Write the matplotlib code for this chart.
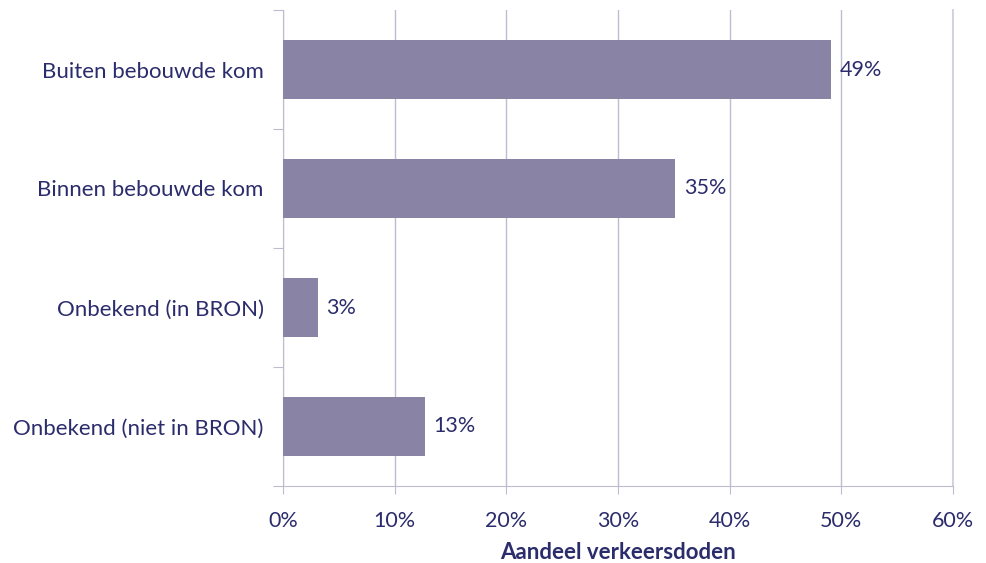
import matplotlib.pyplot as plt
import numpy as np

categories = ['Buiten bebouwde kom', 'Binnen bebouwde kom',
              'Onbekend (in BRON)', 'Onbekend (niet in BRON)']
shares = [49.1, 35.1, 3.1, 12.7]
labels = ['49%', '35%', '3%', '13%']
xticks = [0, 10, 20, 30, 40, 50, 60]

text_color = '#2B2C6B'
bar_color = '#8983A5'
line_color = '#BEBCCF'

plt.rcParams['font.family'] = ['Lato', 'DejaVu Sans']
fs = 16

fig = plt.figure(figsize=(9.87, 5.63), dpi=100)
ax = fig.add_axes([283 / 987, 1 - 486 / 563, (953 - 283) / 987, (486 - 10) / 563])

ypos = np.arange(len(categories))[::-1]
ax.barh(ypos, shares, height=0.5, color=bar_color, zorder=3)
for y, v, lab in zip(ypos, shares, labels):
    ax.text(v + 0.8, y, lab, va='center', ha='left', fontsize=fs - 0.5, color=text_color)

ax.set_xlim(0, 60)
ax.set_ylim(-0.5, len(categories) - 0.5)
ax.set_xticks(xticks)
ax.set_xticklabels([f'{t}%' for t in xticks], fontsize=fs - 0.5, color=text_color)
ax.tick_params(axis='x', length=6, color=line_color, pad=12)

ax.set_yticks(np.arange(-0.5, len(categories)), labels=[''] * (len(categories) + 1))
ax.tick_params(axis='y', which='major', length=7, color=line_color)
ax.set_yticks(ypos, labels=categories, minor=True)
ax.tick_params(axis='y', which='minor', length=0, pad=14, labelsize=fs, labelcolor=text_color)

ax.grid(axis='x', color=line_color, linewidth=1, zorder=0)
ax.axvline(60, color='#D6D6DE', linewidth=1.5, clip_on=False, zorder=1)
ax.spines['top'].set_visible(False)
ax.spines['right'].set_visible(False)
ax.spines['left'].set_color(line_color)
ax.spines['bottom'].set_color(line_color)

ax.set_xlabel('Aandeel verkeersdoden', fontsize=fs, fontweight='bold', color=text_color, labelpad=8)

fig.savefig('out.png', dpi=100)
